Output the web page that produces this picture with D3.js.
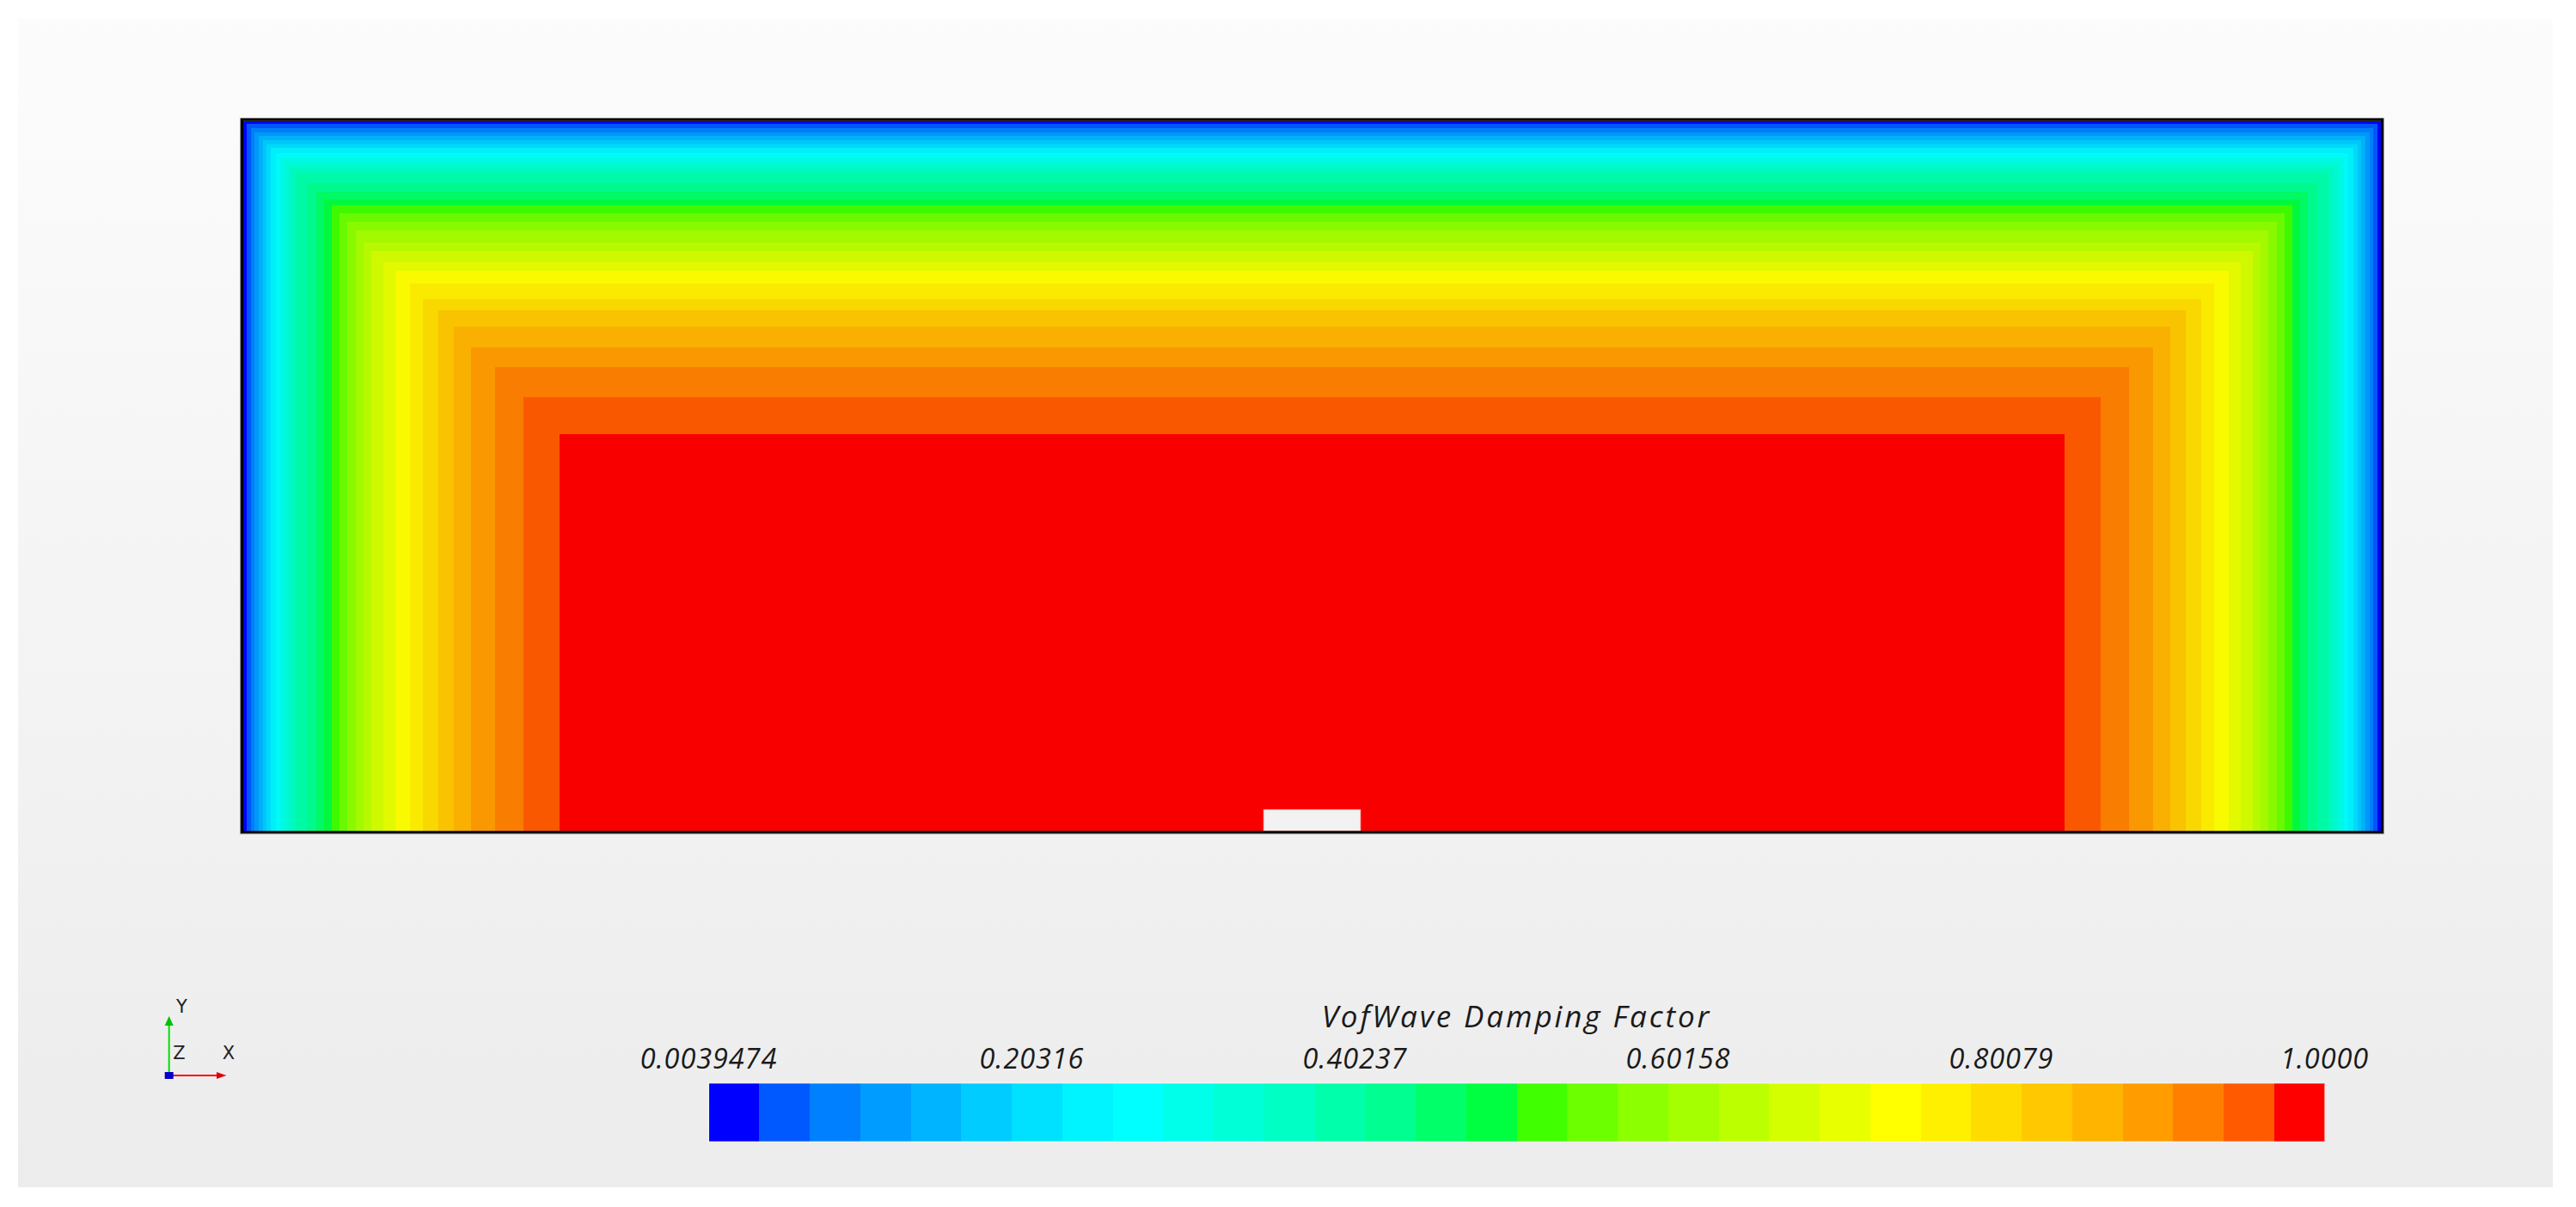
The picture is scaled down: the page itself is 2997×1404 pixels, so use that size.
<!DOCTYPE html>
<html>
<head>
<meta charset="utf-8">
<script src="https://cdn.jsdelivr.net/npm/d3@7"></script>
<style>
  html, body { margin: 0; padding: 0; background: #ffffff; }
  svg { display: block; }
</style>
</head>
<body>
<script>
// ---------------- DATA ----------------
// 32 contour levels of the "VofWave Damping Factor" colour map (blue -> red)
const levelColors = [
  "#0000ff", "#0058ff", "#0080ff", "#009cff", "#00b4ff", "#00ccff", "#00e0ff", "#00f4ff",
  "#00ffff", "#00ffea", "#00ffd6", "#00ffc4", "#00ffaa", "#00ff90", "#00ff68", "#00ff40",
  "#40ff00", "#6cff00", "#8cff00", "#a6ff00", "#bcff00", "#d4ff00", "#e8ff00", "#ffff00",
  "#fff000", "#ffdc00", "#ffc800", "#ffb400", "#ff9c00", "#ff8000", "#ff5a00", "#ff0000"
];
const legendTicks = [0.0039474, 0.20316, 0.40237, 0.60158, 0.80079, 1.0000];
const legendTickLabels = ["0.0039474", "0.20316", "0.40237", "0.60158", "0.80079", "1.0000"];
const legendTitle = "VofWave Damping Factor";

// Domain (model units): x 0..30, y 0..10 (y = 0 at the bottom)
const domainX = [0, 30];
const domainY = [0, 10];
// Distance from the left / right walls at which each level boundary (k -> k+1) lies
const sideEdges = [
  0.048, 0.105, 0.160, 0.217, 0.274, 0.329, 0.386, 0.455, 0.522, 0.591, 0.660,
  0.732, 0.893, 1.022, 1.134, 1.239, 1.351, 1.463, 1.577, 1.689, 1.801, 1.970,
  2.139, 2.340, 2.517, 2.742, 2.959, 3.193, 3.531, 3.929, 4.439
];
// Distance below the top wall at which each level boundary lies
const topEdges = [
  0.040, 0.097, 0.154, 0.210, 0.267, 0.324, 0.379, 0.448, 0.515, 0.582, 0.655,
  0.727, 0.873, 0.994, 1.103, 1.195, 1.304, 1.425, 1.535, 1.704, 1.825, 1.992,
  2.113, 2.286, 2.509, 2.670, 2.901, 3.192, 3.470, 3.895, 4.407
];
// Small excluded block on the bottom boundary
const notchX = [14.32, 15.68];
const notchY = [0, 0.30];

// Axis triad labels
const triadLabels = ["X", "Y", "Z"];

// ---------------- LAYOUT ----------------
const W = 2997, H = 1404;
const plot = { x0: 283, x1: 2770, y0: 140.8, y1: 966.6 };
const legend = { x0: 824.5, x1: 2704.5, y0: 1260, y1: 1328 };

const svg = d3.select("body").append("svg")
  .attr("width", W).attr("height", H)
  .attr("viewBox", `0 0 ${W} ${H}`);

const defs = svg.append("defs");
const bg = defs.append("linearGradient").attr("id", "bgGrad")
  .attr("x1", 0).attr("y1", 0).attr("x2", 0).attr("y2", 1);
bg.append("stop").attr("offset", "0%").attr("stop-color", "#fcfcfc");
bg.append("stop").attr("offset", "100%").attr("stop-color", "#ececec");

svg.append("rect").attr("width", W).attr("height", H).attr("fill", "#ffffff");
svg.append("rect").attr("x", 21).attr("y", 21).attr("width", 2949).attr("height", 1360)
  .attr("fill", "url(#bgGrad)");

// scales
const x = d3.scaleLinear().domain(domainX).range([plot.x0, plot.x1]);
const y = d3.scaleLinear().domain(domainY).range([plot.y1, plot.y0]);

// nested contour rectangles, level 0 = whole domain
const levels = levelColors.map((c, k) => {
  const ds = k === 0 ? 0 : sideEdges[k - 1];
  const dt = k === 0 ? 0 : topEdges[k - 1];
  return { k, color: c, xa: domainX[0] + ds, xb: domainX[1] - ds, ya: domainY[0], yb: domainY[1] - dt };
});

const shade = c => { const col = d3.rgb(c); return d3.rgb(col.r * 0.975, col.g * 0.975, col.b * 0.975).formatHex(); };

svg.append("g").attr("class", "field")
  .selectAll("rect").data(levels).join("rect")
  .attr("x", d => x(d.xa))
  .attr("y", d => y(d.yb))
  .attr("width", d => x(d.xb) - x(d.xa))
  .attr("height", d => y(d.ya) - y(d.yb))
  .attr("fill", d => shade(d.color))
  .attr("shape-rendering", "crispEdges");

// notch
svg.append("rect")
  .attr("x", x(notchX[0])).attr("y", y(notchY[1]))
  .attr("width", x(notchX[1]) - x(notchX[0]))
  .attr("height", y(notchY[0]) - y(notchY[1]))
  .attr("fill", "#f2f2f2")
  .attr("stroke", "#f7b0b0").attr("stroke-width", 0.8);

// frame
svg.append("rect")
  .attr("x", plot.x0 - 1.5).attr("y", plot.y0 - 1.5)
  .attr("width", plot.x1 - plot.x0 + 3).attr("height", plot.y1 - plot.y0 + 3)
  .attr("fill", "none").attr("stroke", "#000").attr("stroke-width", 3);
svg.append("rect")
  .attr("x", plot.x0 - 3.2).attr("y", plot.y0 - 3.2)
  .attr("width", plot.x1 - plot.x0 + 6.4).attr("height", plot.y1 - plot.y0 + 6.4)
  .attr("fill", "none").attr("stroke", "#555").attr("stroke-width", 0.8);

// ---------------- LEGEND ----------------
const lg = svg.append("g").attr("class", "legend");
const sx = d3.scaleLinear().domain([0, levelColors.length]).range([legend.x0, legend.x1]);
lg.selectAll("rect.sw").data(levelColors).join("rect")
  .attr("class", "sw")
  .attr("x", (d, i) => sx(i))
  .attr("y", legend.y0)
  .attr("width", (d, i) => sx(i + 1) - sx(i) + 0.5)
  .attr("height", legend.y1 - legend.y0)
  .attr("fill", d => d)
  .attr("shape-rendering", "crispEdges");
lg.append("rect")
  .attr("x", legend.x0).attr("y", legend.y0)
  .attr("width", legend.x1 - legend.x0).attr("height", legend.y1 - legend.y0)
  .attr("fill", "none").attr("stroke", "rgba(255,255,255,0.55)").attr("stroke-width", 1.2);

const vx = d3.scaleLinear().domain([legendTicks[0], legendTicks[legendTicks.length - 1]])
  .range([legend.x0, legend.x1]);
lg.selectAll("text.tick").data(legendTicks).join("text")
  .attr("class", "tick")
  .attr("x", d => vx(d))
  .attr("y", 1243)
  .attr("text-anchor", "middle")
  .attr("font-family", "'Open Sans', 'Noto Sans', sans-serif")
  .attr("font-style", "italic")
  .attr("font-size", 32.5)
  .attr("letter-spacing", 0.9)
  .attr("fill", "#1a1a1a")
  .text((d, i) => legendTickLabels[i]);
lg.append("text")
  .attr("x", (legend.x0 + legend.x1) / 2)
  .attr("y", 1195)
  .attr("text-anchor", "middle")
  .attr("font-family", "'Open Sans', 'Noto Sans', sans-serif")
  .attr("font-style", "italic")
  .attr("font-size", 35)
  .attr("letter-spacing", 2.9)
  .attr("fill", "#1a1a1a")
  .text(legendTitle);

// ---------------- AXIS TRIAD ----------------
const tr = svg.append("g").attr("class", "triad");
const o = { x: 196.7, y: 1251 };
tr.append("line").attr("x1", o.x).attr("y1", o.y).attr("x2", o.x).attr("y2", 1184)
  .attr("stroke", "#00e000").attr("stroke-width", 2);
tr.append("path").attr("d", `M${o.x - 5},1193 L${o.x + 5},1193 L${o.x},1182 Z`).attr("fill", "#00c000");
tr.append("line").attr("x1", o.x).attr("y1", o.y).attr("x2", 258).attr("y2", o.y)
  .attr("stroke", "#ff0000").attr("stroke-width", 2);
tr.append("path").attr("d", `M252,${o.y - 4} L252,${o.y + 4} L263.5,${o.y} Z`).attr("fill", "#e00000");
tr.append("rect").attr("x", o.x - 5).attr("y", o.y - 4).attr("width", 10).attr("height", 8).attr("fill", "#0000cc");
const labPos = { X: [266, 1232], Y: [211.5, 1178], Z: [208.5, 1232] };
tr.selectAll("text").data(triadLabels).join("text")
  .attr("x", d => labPos[d][0]).attr("y", d => labPos[d][1])
  .attr("text-anchor", "middle")
  .attr("font-family", "'DejaVu Sans', sans-serif")
  .attr("font-size", 21)
  .attr("fill", "#222")
  .text(d => d);
</script>
</body>
</html>
